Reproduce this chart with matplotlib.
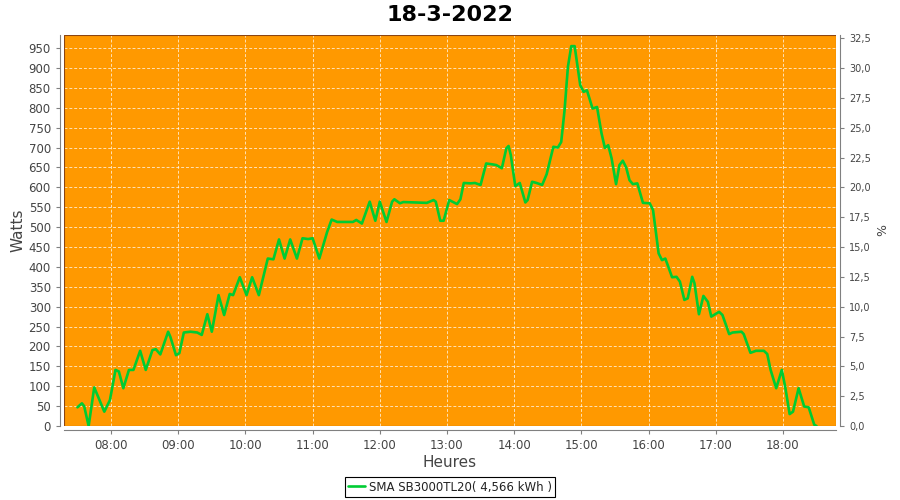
import numpy as np
import matplotlib
matplotlib.use('Agg')
import matplotlib.pyplot as plt
from matplotlib.ticker import MultipleLocator, FuncFormatter

# Données
heures = ['07:30', '07:34', '07:36', '07:40', '07:45', '07:49', '07:54', '07:59',
          '08:04', '08:07', '08:11', '08:16', '08:20', '08:26', '08:31', '08:37',
          '08:40', '08:44', '08:51', '08:53', '08:58', '09:01', '09:05', '09:11',
          '09:17', '09:21', '09:26', '09:30', '09:36', '09:41', '09:46', '09:49',
          '09:55', '10:01', '10:06', '10:12', '10:16', '10:20', '10:25', '10:30',
          '10:35', '10:40', '10:46', '10:51', '10:56', '11:00', '11:06', '11:13',
          '11:17', '11:22', '11:36', '11:39', '11:44', '11:51', '11:56', '12:00',
          '12:06', '12:11', '12:13', '12:18', '12:21', '12:42', '12:48', '12:50',
          '12:54', '12:57', '13:02', '13:09', '13:12', '13:15', '13:21', '13:25',
          '13:30', '13:35', '13:40', '13:44', '13:49', '13:53', '13:55', '13:57',
          '14:01', '14:05', '14:10', '14:12', '14:16', '14:20', '14:25', '14:29',
          '14:35', '14:39', '14:42', '14:45', '14:48', '14:51', '14:54', '14:59',
          '15:02', '15:05', '15:10', '15:14', '15:18', '15:21', '15:24', '15:27',
          '15:31', '15:34', '15:37', '15:40', '15:43', '15:46', '15:50', '15:55',
          '16:01', '16:04', '16:09', '16:12', '16:15', '16:21', '16:25', '16:28',
          '16:32', '16:35', '16:39', '16:41', '16:45', '16:49', '16:53', '16:56',
          '17:03', '17:06', '17:12', '17:15', '17:23', '17:25', '17:31', '17:36',
          '17:43', '17:46', '17:49', '17:54', '17:59', '18:02', '18:06', '18:09',
          '18:14', '18:19', '18:23', '18:28', '18:30']
watts = [47, 57, 50, 0, 97, 70, 36, 65,
         141, 137, 95, 141, 141, 189, 141, 191,
         193, 180, 237, 224, 178, 183, 235, 237,
         235, 229, 281, 237, 329, 279, 332, 329,
         374, 329, 374, 329, 375, 421, 419, 469,
         421, 469, 421, 472, 470, 472, 421, 488,
         519, 513, 513, 518, 509, 564, 516, 564,
         513, 564, 570, 560, 563, 561, 568, 564,
         516, 516, 568, 558, 570, 611, 610, 611,
         606, 660, 658, 656, 648, 698, 704, 681,
         603, 611, 562, 568, 614, 611, 606, 633,
         702, 700, 714, 794, 903, 955, 955, 857,
         840, 844, 798, 802, 736, 699, 706, 673,
         608, 656, 667, 650, 618, 608, 610, 561,
         560, 543, 434, 417, 421, 374, 375, 363,
         317, 321, 375, 359, 281, 327, 312, 275,
         287, 279, 231, 235, 237, 231, 184, 189,
         189, 181, 141, 95, 141, 99, 30, 36,
         95, 49, 47, 3, 0]
serie = 'SMA SB3000TL20( 4,566 kWh )'
titre = '18-3-2022'
puissance_max = 3000  # W, pour l'axe des %

t = np.array([int(h[:2]) + int(h[3:]) / 60 for h in heures])

fig = plt.figure(figsize=(9, 5), dpi=100)
ax = fig.add_axes([64/900, 1 - 426/500, (836 - 64)/900, (426 - 35)/500])
ax.set_facecolor('#FF9900')

ax.plot(t, watts, color='#00CC33', linewidth=1.9, label=serie,
        solid_joinstyle='round', solid_capstyle='round')

ax.set_xlim(7.3, 18.79)
ax.set_ylim(0, 983)
ax.xaxis.set_major_locator(MultipleLocator(1))
ax.xaxis.set_major_formatter(FuncFormatter(lambda v, p: f'{int(round(v)):02d}:00'))
ax.yaxis.set_major_locator(MultipleLocator(50))
ax.grid(True, color='white', linestyle=(0, (3, 2)), linewidth=0.7, alpha=0.7)

gris = '#808080'
for s in ['left', 'bottom']:
    ax.spines[s].set_position(('outward', 3))
    ax.spines[s].set_color(gris)
for s in ['top', 'right']:
    ax.spines[s].set_visible(False)
ax.add_patch(plt.Rectangle((0, 0), 1, 1, transform=ax.transAxes, fill=False,
                           edgecolor='#8B4513', linewidth=0.8, zorder=5))

ax.tick_params(axis='both', colors=gris, labelcolor='#444444', labelsize=8.5,
               length=3, width=0.8)
ax.set_xlabel('Heures', fontsize=11, color='#444444', labelpad=2)
ax.set_ylabel('Watts', fontsize=11, color='#444444', labelpad=2)

ax2 = ax.twinx()
ax2.set_ylim(0, 983 / puissance_max * 100)
ax2.yaxis.set_major_locator(MultipleLocator(2.5))
ax2.yaxis.set_major_formatter(FuncFormatter(lambda v, p: f'{v:.1f}'.replace('.', ',')))
for s in ['left', 'bottom', 'top']:
    ax2.spines[s].set_visible(False)
ax2.spines['right'].set_position(('outward', 3))
ax2.spines['right'].set_color(gris)
ax2.tick_params(axis='y', colors=gris, labelcolor='#444444', labelsize=7,
                length=3, width=0.8)
ax2.set_ylabel('%', fontsize=9, color='#444444', labelpad=4)

fig.suptitle(titre, fontsize=16, fontweight='bold', y=0.99)

leg = fig.legend(loc='center', bbox_to_anchor=(0.5, 0.026), fontsize=8.5,
                 fancybox=False, edgecolor='black', framealpha=1,
                 handlelength=1.4, handletextpad=0.3, borderpad=0.3,
                 borderaxespad=0)
leg.get_frame().set_linewidth(0.8)
for txt in leg.get_texts():
    txt.set_color('#222222')

fig.savefig('out.png', dpi=100)
